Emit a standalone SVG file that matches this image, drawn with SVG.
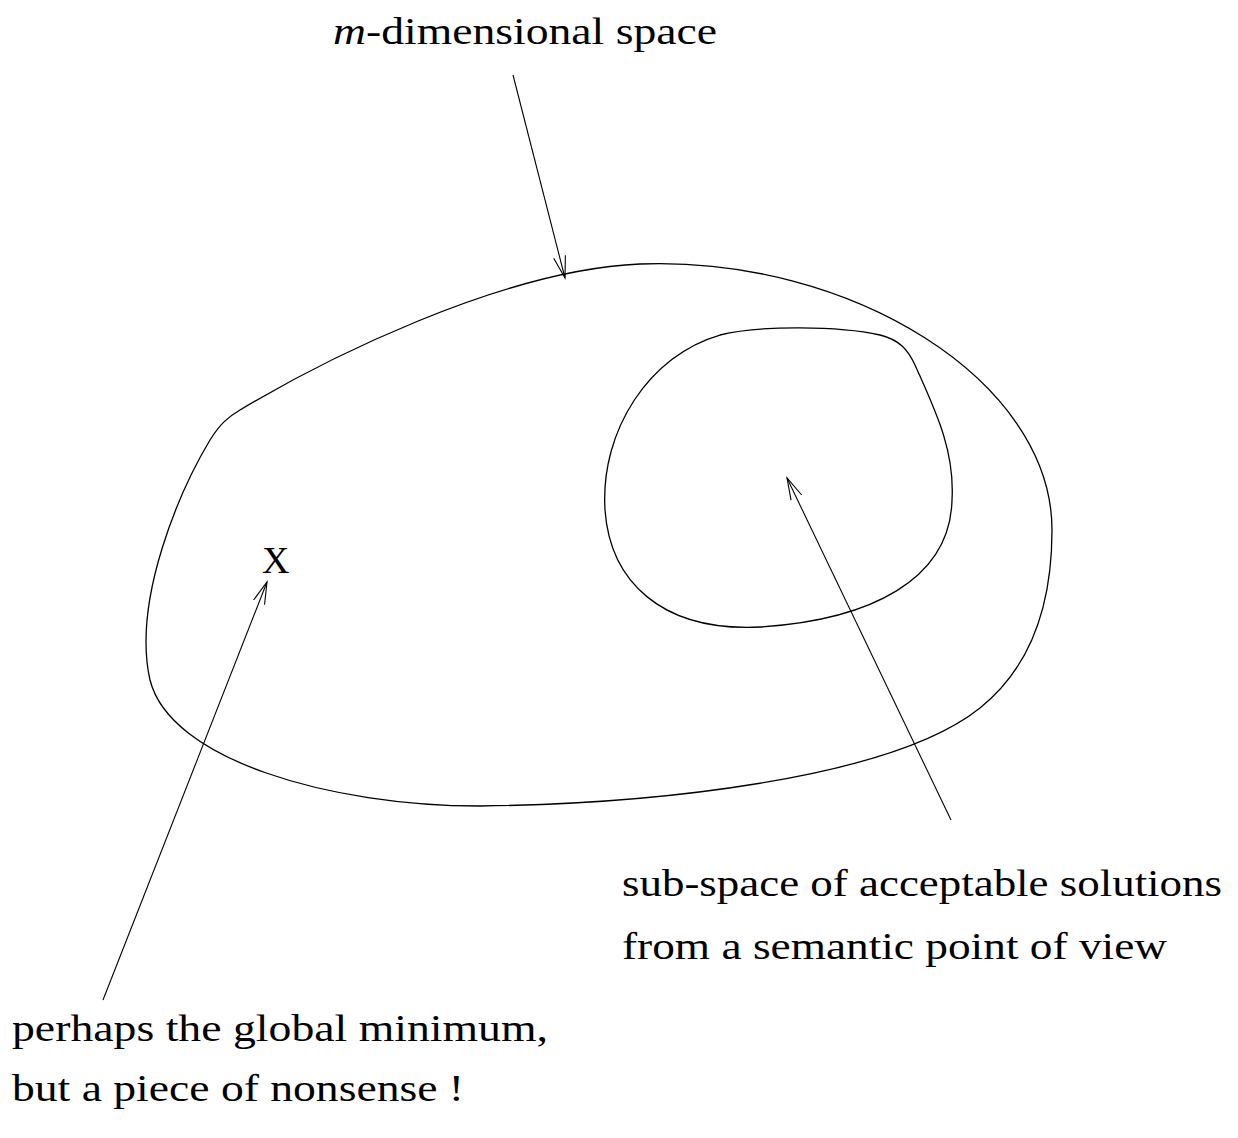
<svg xmlns="http://www.w3.org/2000/svg" width="1238" height="1138" viewBox="0 0 1238 1138">
<style>
.c{fill:none;stroke:#000;stroke-width:1.3}
.l{fill:none;stroke:#000;stroke-width:1.1}
.t{font-size:38px;fill:#000}
</style>
<defs>
<marker id="ah" markerWidth="24" markerHeight="14" refX="22" refY="7" orient="auto" markerUnits="userSpaceOnUse">
<path d="M0,1 L22,7 L0,13" fill="none" stroke="#000" stroke-width="1.1"/>
</marker>
</defs>
<rect width="1238" height="1138" fill="#fff"/>
<g id="outer-space">
<path class="c" d="M 240,410 C 320,362 500,270 640,264 C 850,256 1052,380 1052,530 C 1052,615 1025,672 980,708 C 890,780 650,804 480,806 C 330,806 170,760 150,680 C 132,600 180,490 210,440 C 220,424 228,417 240,410 Z"/>
</g>
<g id="subspace">
<path class="c" d="M 880,335 C 900,340 908,350 915,365 C 935,410 955,450 952,500 C 950,580 870,620 760,627 C 660,632 610,580 605,510 C 600,430 650,355 720,335 C 760,325 840,326 880,335 Z"/>
</g>
<g id="minimum" font-family="Liberation Serif, Times New Roman, serif">
<text class="t" x="262" y="573" font-size="37">X</text>
</g>
<g id="labels" font-family="Liberation Serif, Times New Roman, serif">
<text class="t" x="333" y="44" textLength="384" lengthAdjust="spacingAndGlyphs"><tspan font-style="italic">m</tspan>-dimensional space</text>
<text class="t" x="622" y="896" textLength="600" lengthAdjust="spacingAndGlyphs">sub-space of acceptable solutions</text>
<text class="t" x="622" y="959" textLength="545" lengthAdjust="spacingAndGlyphs">from a semantic point of view</text>
<text class="t" x="12" y="1041" textLength="536" lengthAdjust="spacingAndGlyphs">perhaps the global minimum,</text>
<text class="t" x="12" y="1101" textLength="452" lengthAdjust="spacingAndGlyphs">but a piece of nonsense !</text>
</g>
<g id="connectors">
<line class="l" x1="513" y1="75" x2="565" y2="278" marker-end="url(#ah)"/>
<line class="l" x1="103" y1="1000" x2="267" y2="582" marker-end="url(#ah)"/>
<line class="l" x1="951" y1="820" x2="787" y2="478" marker-end="url(#ah)"/>
</g>
</svg>
